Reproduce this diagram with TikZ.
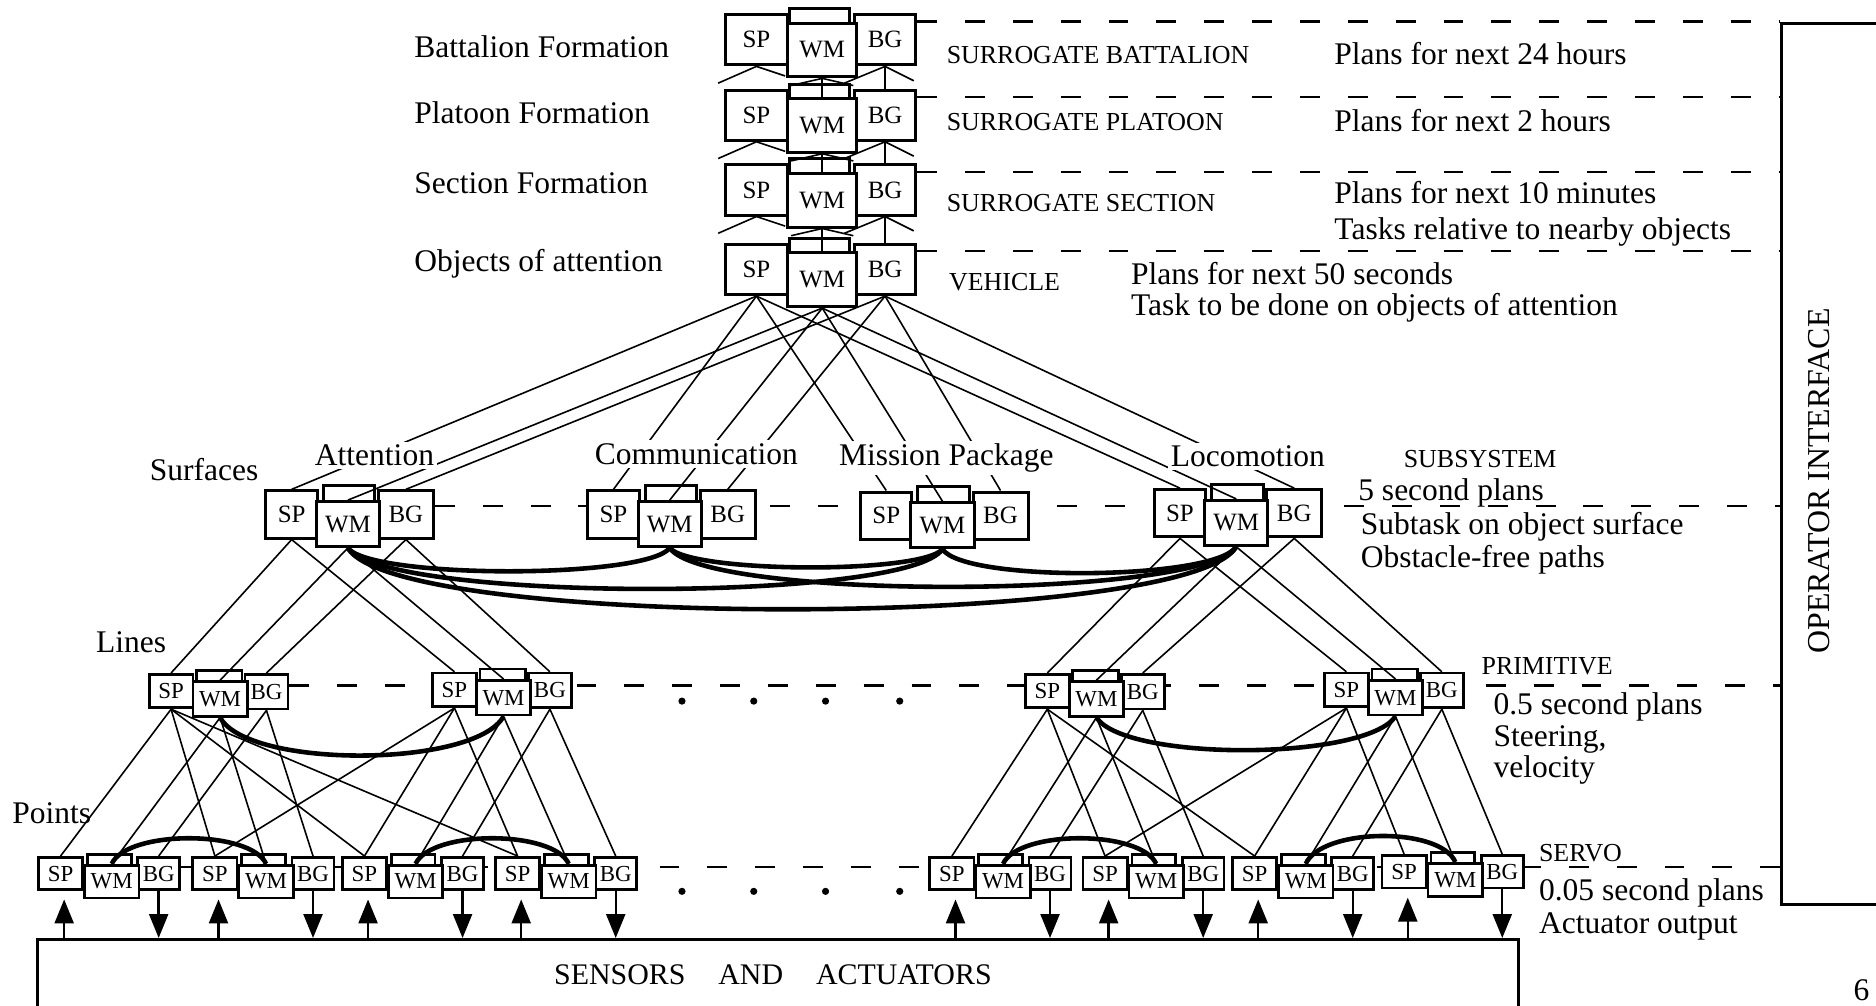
\documentclass[tikz,border=0pt]{standalone}
\usepackage{fontspec}
\setmainfont{Liberation Serif}
\usetikzlibrary{arrows.meta,calc}
\pgfdeclarelayer{bg}
\pgfdeclarelayer{tabs}
\pgfdeclarelayer{wires}
\pgfsetlayers{bg,tabs,wires,main}

\tikzset{
  mod/.style={draw, fill=white, anchor=north west, inner sep=0pt, line width=1.5pt},
  bigmod/.style={mod, font=\fontsize{12.5}{12.5}\selectfont},
  smallmod/.style={mod, line width=1.35pt, font=\fontsize{11.5}{12}\selectfont},
  wire/.style={line width=0.8pt},
  wmlink/.style={line width=2.3pt},
  levelline/.style={line width=1.1pt, dash pattern=on 10pt off 14pt},
  txt/.style={anchor=base west, inner sep=0pt, font=\fontsize{15.8}{18}\selectfont},
  caps/.style={anchor=base west, inner sep=0pt, font=\fontsize{13}{15}\selectfont},
  sublabel/.style={anchor=base, inner sep=1.5pt, fill=white, font=\fontsize{15.8}{18}\selectfont},
  sig/.style={line width=1.2pt, -{Triangle[length=12pt,width=9.5pt]}},
  frame/.style={draw, line width=1.5pt, anchor=north west, inner sep=0pt},
  dot/.style={circle, fill, inner sep=0pt, minimum size=3.6pt},
}

% one RCS node: sensory processing (SP), world model (WM) with its tab, behaviour generation (BG)
\newcommand\unitA[3]{%
  \begin{pgfonlayer}{tabs}
    \node[bigmod, minimum width=30pt, minimum height=7.2pt] (#1-tab) at ({#2+54},{#3-5}) {};
  \end{pgfonlayer}
  \node[bigmod, minimum width=31.2pt, minimum height=25.2pt] (#1-sp) at (#2,#3) {SP};
  \node[bigmod, minimum width=30.6pt, minimum height=25.2pt] (#1-bg) at ({#2+108},#3) {BG};
  \node[bigmod, minimum width=34.8pt, minimum height=27pt] (#1-wm) at ({#2+52},{#3+7}) {WM};
}
\newcommand\unitB[3]{%
  \begin{pgfonlayer}{tabs}
    \node[bigmod, minimum width=25.8pt, minimum height=8.1pt] (#1-tab) at ({#2+48},{#3-4.5}) {};
  \end{pgfonlayer}
  \node[bigmod, minimum width=25.8pt, minimum height=23.7pt] (#1-sp) at (#2,#3) {SP};
  \node[bigmod, minimum width=27.6pt, minimum height=23.7pt] (#1-bg) at ({#2+94},#3) {BG};
  \node[bigmod, minimum width=31.8pt, minimum height=22.5pt] (#1-wm) at ({#2+42},{#3+9}) {WM};
}
\newcommand\unitC[3]{%
  \begin{pgfonlayer}{tabs}
    \node[smallmod, minimum width=22.8pt, minimum height=5.7pt] (#1-tab) at ({#2+39.5},{#3-3.5}) {};
  \end{pgfonlayer}
  \node[smallmod, minimum width=21.9pt, minimum height=16.8pt] (#1-sp) at (#2,#3) {SP};
  \node[smallmod, minimum width=21.6pt, minimum height=17.4pt] (#1-bg) at ({#2+80},#3) {BG};
  \node[smallmod, minimum width=27.3pt, minimum height=17.4pt] (#1-wm) at ({#2+36.5},{#3+6}) {WM};
}
\newcommand\unitD[3]{%
  \begin{pgfonlayer}{tabs}
    \node[smallmod, minimum width=21.9pt, minimum height=5.4pt] (#1-tab) at ({#2+41},{#3-2.5}) {};
  \end{pgfonlayer}
  \node[smallmod, minimum width=22.2pt, minimum height=16.2pt] (#1-sp) at (#2,#3) {SP};
  \node[smallmod, minimum width=21pt, minimum height=16.2pt] (#1-bg) at ({#2+83},#3) {BG};
  \node[smallmod, minimum width=27.3pt, minimum height=16.5pt] (#1-wm) at ({#2+38.5},{#3+6.5}) {WM};
}

\begin{document}
\begin{tikzpicture}[x=0.6pt,y=-0.6pt]
\useasboundingbox (0,0) rectangle (1568,840);

% ---------- nodes of the hierarchy ----------
\unitA{u1}{605}{11}
\unitA{u2}{605}{74}
\unitA{u3}{605}{136.5}
\unitA{u4}{605}{203}

\unitB{att}{221}{409}
\unitB{com}{490}{409}
\unitB{mis}{718}{410}
\unitB{loc}{963.5}{408}

\unitC{p1}{123.6}{562.5}
\unitC{p2}{360.5}{561.5}
\unitC{p3}{856}{562.5}
\unitC{p4}{1106}{561.5}

\unitD{s1}{31}{715.5}
\unitD{s2}{160}{715.5}
\unitD{s3}{285}{715.5}
\unitD{s4}{413}{715.5}
\unitD{s5}{776}{715.5}
\unitD{s6}{904}{715.5}
\unitD{s7}{1029}{715.5}
\unitD{s8}{1154}{714}

% sensors / actuators and operator interface
\node[frame, minimum width=742.8pt, minimum height=42pt] (sens) at (30,784) {};
\node[caps, anchor=base, font=\fontsize{15}{17}\selectfont] (t-sens) at (646,823)
  {SENSORS\hspace{16.5pt}AND\hspace{16.5pt}ACTUATORS};
\node[frame, minimum width=72pt, minimum height=442.2pt] (opbox) at (1488,18) {};
\node[rotate=90, inner sep=0pt, font=\fontsize{16}{18}\selectfont] (t-op) at (1520,402) {OPERATOR INTERFACE};

% ---------- level separators ----------
\coordinate (lvA1) at (0,18);
\coordinate (lvA2) at (0,81);
\coordinate (lvA3) at (0,144);
\coordinate (lvA4) at (0,210);
\coordinate (lvB) at (0,423);
\coordinate (lvC) at (0,573);
\coordinate (lvD) at (0,724.5);
\begin{pgfonlayer}{bg}
  \draw[levelline] (u1-bg.east |- lvA1) -- (opbox.west |- lvA1);
  \draw[levelline] (u2-bg.east |- lvA2) -- (opbox.west |- lvA2);
  \draw[levelline] (u3-bg.east |- lvA3) -- (opbox.west |- lvA3);
  \draw[levelline] (u4-bg.east |- lvA4) -- (opbox.west |- lvA4);
  \draw[levelline] (att-bg.east |- lvB) -- (opbox.west |- lvB);
  \draw[levelline] (p1-bg.east |- lvC) -- (opbox.west |- lvC);
  \draw[levelline] (s1-bg.east |- lvD) -- (opbox.west |- lvD);
\end{pgfonlayer}

% ---------- connectors ----------
\begin{pgfonlayer}{wires}
  % surrogate levels: stubs and vertical WM/BG links
  \foreach \u in {u1,u2,u3} {
    \draw[wire] ($(\u-sp.south)+(-32,14)$) -- (\u-sp.south) -- ++(24,8);
    \draw[wire] ($(\u-wm.south)+(-26,6)$) -- (\u-wm.south) -- ++(26,6);
    \draw[wire] ($(\u-bg.south)+(-34,14)$) -- (\u-bg.south) -- ++(24,12);
  }
  \draw[wire] (u1-wm.south) -- (u2-wm.north);
  \draw[wire] (u2-wm.south) -- (u3-wm.north);
  \draw[wire] (u3-wm.south) -- (u4-wm.north);
  \draw[wire] (u1-bg.south) -- (u2-bg.north);
  \draw[wire] (u2-bg.south) -- (u3-bg.north);
  \draw[wire] (u3-bg.south) -- (u4-bg.north);

  % vehicle to subsystems
  \foreach \s in {att,com,mis,loc}
    \foreach \k in {sp,wm,bg}
      \draw[wire] (u4-\k.south) -- (\s-\k.north);

  % subsystems to primitive level
  \foreach \k in {sp,wm,bg} {
    \draw[wire] (att-\k.south) -- (p1-\k.north);
    \draw[wire] (att-\k.south) -- (p2-\k.north);
    \draw[wire] (loc-\k.south) -- (p3-\k.north);
    \draw[wire] (loc-\k.south) -- (p4-\k.north);
  }

  % primitive to servo level
  \foreach \t in {s1,s2,s3,s4} \draw[wire] (p1-sp.south) -- (\t-sp.north);
  \foreach \t in {s2,s3,s4} \draw[wire] (p2-sp.south) -- (\t-sp.north);
  \foreach \t in {s5,s6,s7} \draw[wire] (p3-sp.south) -- (\t-sp.north);
  \foreach \t in {s6,s7,s8} \draw[wire] (p4-sp.south) -- (\t-sp.north);
  \foreach \k in {wm,bg} {
    \draw[wire] (p1-\k.south) -- (s1-\k.north);
    \draw[wire] (p1-\k.south) -- (s2-\k.north);
    \draw[wire] (p2-\k.south) -- (s3-\k.north);
    \draw[wire] (p2-\k.south) -- (s4-\k.north);
    \draw[wire] (p3-\k.south) -- (s5-\k.north);
    \draw[wire] (p3-\k.south) -- (s6-\k.north);
    \draw[wire] (p4-\k.south) -- (s7-\k.north);
    \draw[wire] (p4-\k.south) -- (s8-\k.north);
  }

  % world-model links between peers
  \draw[wmlink] (att-wm.south) .. controls +(20,26) and +(-20,26) .. (com-wm.south);
  \draw[wmlink] (att-wm.south) .. controls +(30,45) and +(-30,45) .. (mis-wm.south);
  \draw[wmlink] (att-wm.south) .. controls +(40,69) and +(-40,69) .. (loc-wm.south);
  \draw[wmlink] (com-wm.south) .. controls +(18,21) and +(-18,21) .. (mis-wm.south);
  \draw[wmlink] (com-wm.south) .. controls +(30,44) and +(-30,44) .. (loc-wm.south);
  \draw[wmlink] (mis-wm.south) .. controls +(18,28) and +(-18,28) .. (loc-wm.south);

  \draw[wmlink] (p1-wm.south) .. controls +(24,43) and +(-24,43) .. (p2-wm.south);
  \draw[wmlink] (p3-wm.south) .. controls +(25,37) and +(-25,37) .. (p4-wm.south);

  \draw[wmlink] (s1-wm.north) .. controls +(13,-28.5) and +(-13,-28.5) .. (s2-wm.north);
  \draw[wmlink] (s3-wm.north) .. controls +(13,-28.5) and +(-13,-28.5) .. (s4-wm.north);
  \draw[wmlink] (s5-wm.north) .. controls +(13,-28.5) and +(-13,-28.5) .. (s6-wm.north);
  \draw[wmlink] (s7-wm.north) .. controls +(13,-30) and +(-13,-30) .. (s8-wm.north);

  % sensor inputs and actuator outputs
  \foreach \s in {s1,s2,s3,s4,s5,s6,s7,s8} {
    \draw[sig] ($(\s-sp.south |- sens.north)+(3,0)$) -- ($(\s-sp.south)+(3,7)$);
    \draw[sig] (\s-bg.south) -- (\s-bg.south |- sens.north);
  }
\end{pgfonlayer}

% ellipsis between the two halves
\foreach \x [count=\i] in {570,630,690,752} {
  \node[dot] (pd\i) at (\x,586) {};
  \node[dot] (sd\i) at (\x,745) {};
}

% ---------- labels ----------
\node[txt] (t-bat) at (346,48) {Battalion Formation};
\node[txt] (t-plt) at (346,103) {Platoon Formation};
\node[txt] (t-sec) at (346,162) {Section Formation};
\node[txt] (t-obj) at (346,227) {Objects of attention};

\node[caps] (c-bat) at (791,53) {SURROGATE BATTALION};
\node[caps] (c-plt) at (791,109) {SURROGATE PLATOON};
\node[caps] (c-sec) at (791,177) {SURROGATE SECTION};
\node[caps] (c-veh) at (793,243) {VEHICLE};

\node[txt] (r-bat) at (1115,54) {Plans for next 24 hours};
\node[txt] (r-plt) at (1115,110) {Plans for next 2 hours};
\node[txt] (r-sec1) at (1115,170) {Plans for next 10 minutes};
\node[txt] (r-sec2) at (1115,200) {Tasks relative to nearby objects};
\node[txt] (r-veh1) at (945,238) {Plans for next 50 seconds};
\node[txt] (r-veh2) at (945,264) {Task to be done on objects of attention};

\node[txt] (l-surf) at (125,402) {Surfaces};
\node[sublabel] (n-att) at (313,389) {Attention};
\node[sublabel] (n-com) at (582,388) {Communication};
\node[sublabel] (n-mis) at (791,389) {Mission Package};
\node[sublabel] (n-loc) at (1043,390) {Locomotion};

\node[caps] (c-sub) at (1173,391) {SUBSYSTEM};
\node[txt] (r-sub1) at (1135,418) {5 second plans};
\node[txt] (r-sub2) at (1137,447) {Subtask on object surface};
\node[txt] (r-sub3) at (1137,474) {Obstacle-free paths};

\node[txt] (l-lines) at (80,545) {Lines};
\node[caps] (c-prim) at (1238,564) {PRIMITIVE};
\node[txt] (r-prim1) at (1248,597) {0.5 second plans};
\node[txt] (r-prim2) at (1248,624) {Steering,};
\node[txt] (r-prim3) at (1248,650) {velocity};

\node[txt] (l-pts) at (10,688) {Points};
\node[caps] (c-servo) at (1286,720) {SERVO};
\node[txt] (r-servo1) at (1286,753) {0.05 second plans};
\node[txt] (r-servo2) at (1286,780) {Actuator output};

\node[txt] (t-page) at (1549,836) {6};
\end{tikzpicture}
\end{document}
